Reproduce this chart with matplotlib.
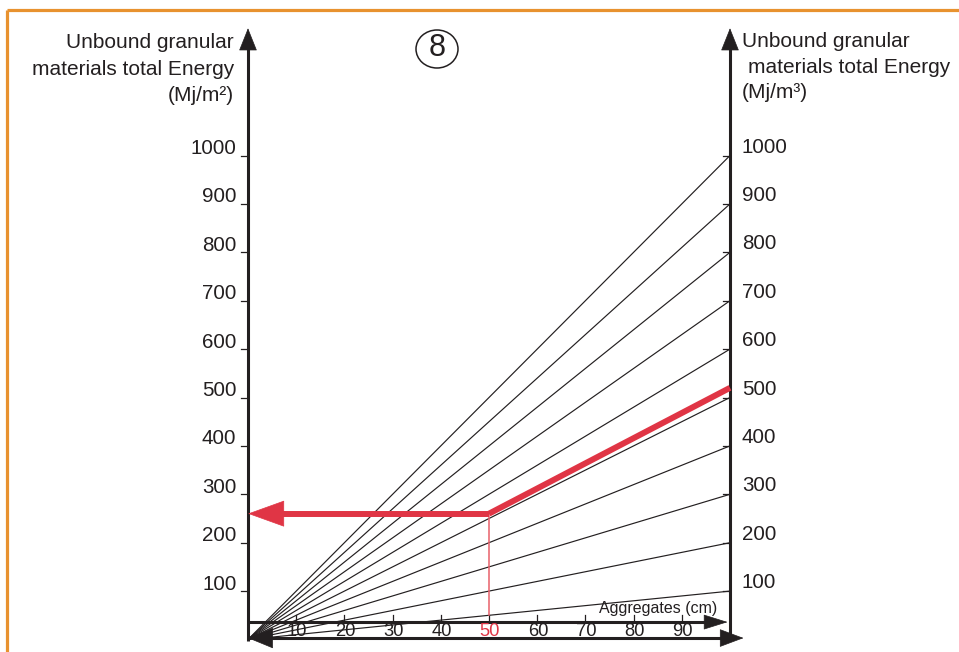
import matplotlib.pyplot as plt
from matplotlib.patches import Ellipse

# nomogram data
depth_ticks = [10, 20, 30, 40, 50, 60, 70, 80, 90]          # Aggregates (cm)
energy_ticks = [100, 200, 300, 400, 500, 600, 700, 800, 900, 1000]
fan_values = [100, 200, 300, 400, 500, 600, 700, 800, 900, 1000]  # Mj/m3 at 100 cm
depth_max = 100
example_depth = 50
example_m3 = 520
example_m2 = 260

ink = '#231f20'
red = '#e03545'
orange = '#e8922f'

plt.rcParams['font.family'] = ['Liberation Sans', 'DejaVu Sans']

fig = plt.figure(figsize=(9.59, 6.52), dpi=100)
ax = fig.add_axes([0, 0, 1, 1])
# pixel layout: x=0 at 248px, 4.82 px per cm; y=0 at 12.5px from bottom, 0.484 px per unit
ax.set_xlim(-248 / 4.82, (959 - 248) / 4.82)
ax.set_ylim(-12.5 / 0.484, (652 - 12.5) / 0.484)
ax.axis('off')

# orange frame
ax.plot([7 / 959, 1], [1 - 10 / 652, 1 - 10 / 652], color=orange, lw=2.3,
        transform=ax.transAxes, solid_capstyle='butt')
ax.plot([7 / 959, 7 / 959], [0, 1 - 10 / 652], color=orange, lw=2.3,
        transform=ax.transAxes, solid_capstyle='butt')

# fan lines
for v in fan_values:
    ax.plot([0, depth_max], [0, v], color=ink, lw=0.85)

# vertical axes with arrows
top = 1263
for xa in (0, depth_max):
    ax.plot([xa, xa], [-4, top - 30], color=ink, lw=2.2, solid_capstyle='butt')
    ax.annotate('', xy=(xa, top), xytext=(xa, top - 60),
                arrowprops=dict(arrowstyle='-|>,head_length=0.75,head_width=0.3',
                                color=ink, lw=0.5, mutation_scale=20,
                                shrinkA=0, shrinkB=0))

# energy ticks and labels
tick_len = 7 / 4.82
for v in energy_ticks:
    ax.plot([-tick_len, 0], [v, v], color=ink, lw=0.9)
    ax.plot([depth_max - tick_len, depth_max], [v, v], color=ink, lw=0.9)
    ax.annotate(str(v), xy=(0, v), xytext=(-8.3, 5), textcoords='offset points',
                ha='right', va='center', fontsize=14.8, color=ink)
    ax.annotate(str(v), xy=(depth_max, v), xytext=(8.6, 6), textcoords='offset points',
                ha='left', va='center', fontsize=14.8, color=ink)

# horizontal depth axis (arrow) and lower double arrow
axis_y = 36
ax.plot([0, depth_max - 3], [axis_y, axis_y], color=ink, lw=2.2, solid_capstyle='butt')
ax.annotate('', xy=(depth_max - 0.5, axis_y), xytext=(depth_max - 8, axis_y),
            arrowprops=dict(arrowstyle='-|>,head_length=0.8,head_width=0.25',
                            color=ink, lw=0.5, mutation_scale=20,
                            shrinkA=0, shrinkB=0))
ax.plot([2, 100], [3, 3], color=ink, lw=2.2, solid_capstyle='butt')
ax.annotate('', xy=(102.8, 3), xytext=(95, 3),
            arrowprops=dict(arrowstyle='-|>,head_length=0.8,head_width=0.3',
                            color=ink, lw=0.5, mutation_scale=20,
                            shrinkA=0, shrinkB=0))
ax.annotate('', xy=(0, 3), xytext=(8, 3),
            arrowprops=dict(arrowstyle='-|>,head_length=0.85,head_width=0.35',
                            color=ink, lw=0.5, mutation_scale=20,
                            shrinkA=0, shrinkB=0))
for d in depth_ticks:
    ax.plot([d, d], [axis_y, axis_y + 14], color=ink, lw=0.9)
    ax.annotate(str(d), xy=(d, axis_y), xytext=(0.5, -6.5), textcoords='offset points',
                ha='center', va='center', fontsize=13.2,
                color=red if d == example_depth else ink)
ax.annotate('Aggregates (cm)', xy=(depth_max, axis_y), xytext=(-9, 10),
            textcoords='offset points', ha='right', va='center',
            fontsize=11.5, color=ink)

# worked example in red
ax.plot([example_depth, example_depth], [axis_y + 14, example_m2], color='#e8606a', lw=1.1)
ax.plot([example_depth, depth_max], [example_m2, example_m3], color=red, lw=4.3,
        solid_capstyle='butt')
ax.plot([example_depth, 5], [example_m2, example_m2], color=red, lw=4.3,
        solid_capstyle='butt')
ax.annotate('', xy=(0, example_m2), xytext=(10, example_m2),
            arrowprops=dict(arrowstyle='-|>,head_length=1.25,head_width=0.45',
                            color=red, lw=0.5, mutation_scale=20,
                            shrinkA=0, shrinkB=0))

# axis titles
for txt, yb in (('Unbound granular', 48), ('materials total Energy', 75), ('(Mj/m²)', 101)):
    ax.text(234 / 959, 1 - yb / 652, txt, transform=ax.transAxes, ha='right',
            va='baseline', fontsize=15, color=ink)
for txt, xl, yb in (('Unbound granular', 742, 47), ('materials total Energy', 748, 73),
                    ('(Mj/m³)', 742, 98)):
    ax.text(xl / 959, 1 - yb / 652, txt, transform=ax.transAxes, ha='left',
            va='baseline', fontsize=15, color=ink)

# chart number
ax.add_patch(Ellipse((437 / 959, 1 - 49 / 652), 42 / 959, 38 / 652,
                     transform=ax.transAxes, fill=False, ec=ink, lw=1.1))
ax.text(437 / 959, 1 - 48.5 / 652, '8', transform=ax.transAxes, ha='center',
        va='center', fontsize=22, color=ink)

fig.savefig('out.png', dpi=100)
